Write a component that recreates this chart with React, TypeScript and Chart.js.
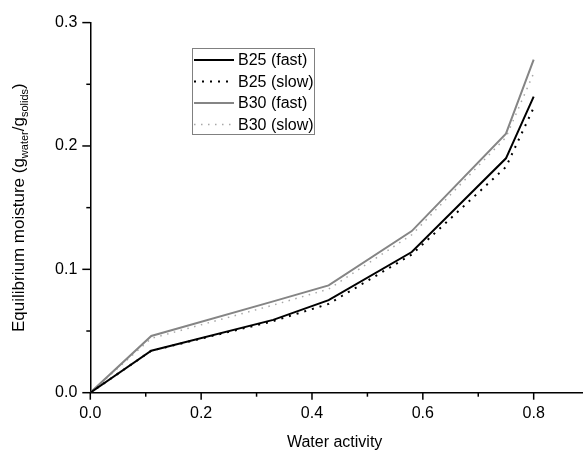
import React, { useEffect, useRef } from "react";
import { Chart, registerables } from "chart.js";

Chart.register(...registerables);

const waterActivity = [0, 0.11, 0.33, 0.43, 0.58, 0.75, 0.8];
const b25Fast = [0, 0.034, 0.059, 0.075, 0.114, 0.19, 0.24];
const b25Slow = [0, 0.034, 0.058, 0.072, 0.112, 0.183, 0.231];
const b30Fast = [0, 0.046, 0.074, 0.087, 0.131, 0.21, 0.27];
const b30Slow = [0, 0.044, 0.071, 0.084, 0.128, 0.207, 0.259];
const seriesLabels = ["B25 (fast)", "B25 (slow)", "B30 (fast)", "B30 (slow)"];

const FONT = "'Liberation Sans', Arial, sans-serif";

const isMult = (v: number, step: number) => Math.abs(v / step - Math.round(v / step)) < 1e-6;

const axisPlugin = {
  id: "customAxis",
  afterDraw(chart: any) {
    const ctx = chart.ctx;
    const xs = chart.scales.x;
    const ys = chart.scales.y;
    const area = chart.chartArea;
    ctx.save();
    ctx.strokeStyle = "#000";
    ctx.lineWidth = 1.5;
    // y ticks
    ys.ticks.forEach((t: any) => {
      const p = ys.getPixelForValue(t.value);
      const len = isMult(t.value, 0.1) ? 8 : 4;
      ctx.beginPath();
      ctx.moveTo(area.left - len, p);
      ctx.lineTo(area.left, p);
      ctx.stroke();
    });
    xs.ticks.forEach((t: any) => {
      const p = xs.getPixelForValue(t.value);
      const len = isMult(t.value, 0.2) ? 7 : 4;
      ctx.beginPath();
      ctx.moveTo(p, area.bottom);
      ctx.lineTo(p, area.bottom + len);
      ctx.stroke();
    });
    // x title
    ctx.fillStyle = "#000";
    ctx.font = `16px ${FONT}`;
    ctx.textAlign = "center";
    ctx.textBaseline = "middle";
    ctx.fillText("Water activity", (area.left + area.right) / 2 - 2, 443);
    // y title with subscripts
    const parts: [string, boolean][] = [
      ["Equilibrium moisture (g", false],
      ["water", true],
      ["/g", false],
      ["solids", true],
      [")", false],
    ];
    const mainFont = `17px ${FONT}`;
    const subFont = `11px ${FONT}`;
    let total = 0;
    parts.forEach(([s, sub]) => {
      ctx.font = sub ? subFont : mainFont;
      total += ctx.measureText(s).width;
    });
    const cy = (area.top + area.bottom) / 2;
    ctx.translate(24, cy);
    ctx.rotate(-Math.PI / 2);
    ctx.textAlign = "left";
    ctx.textBaseline = "alphabetic";
    let x = -total / 2;
    parts.forEach(([s, sub]) => {
      ctx.font = sub ? subFont : mainFont;
      ctx.fillText(s, x, sub ? 4 : 0);
      x += ctx.measureText(s).width;
    });
    ctx.restore();
  },
};

const legendPlugin = {
  id: "boxLegend",
  afterDatasetsDraw(chart: any) {
    const ctx = chart.ctx;
    const left = 192;
    const top = 48;
    const w = 122;
    const h = 86;
    ctx.save();
    ctx.fillStyle = "#fff";
    ctx.fillRect(left, top, w, h);
    ctx.strokeStyle = "#808080";
    ctx.lineWidth = 1;
    ctx.strokeRect(left + 0.5, top + 0.5, w, h);
    const rows = [60, 81.5, 103, 124.5];
    chart.data.datasets.forEach((ds: any, i: number) => {
      const y = rows[i];
      ctx.beginPath();
      ctx.strokeStyle = ds.borderColor;
      ctx.lineWidth = ds.borderWidth;
      ctx.setLineDash(ds.borderDash || []);
      ctx.moveTo(194, y);
      ctx.lineTo(234, y);
      ctx.stroke();
      ctx.setLineDash([]);
      ctx.fillStyle = "#000";
      ctx.font = `16px ${FONT}`;
      ctx.textAlign = "left";
      ctx.textBaseline = "middle";
      ctx.fillText(ds.label, 238, y + 1);
    });
    ctx.restore();
  },
};

export default function App() {
  const ref = useRef<HTMLCanvasElement>(null);
  useEffect(() => {
    if (!ref.current) return;
    const mk = (arr: number[]) => waterActivity.map((x, i) => ({ x, y: arr[i] }));
    const chart = new Chart(ref.current, {
      type: "line",
      data: {
        datasets: [
          { label: seriesLabels[0], data: mk(b25Fast), borderColor: "#000000", borderWidth: 2, pointRadius: 0, fill: false },
          { label: seriesLabels[1], data: mk(b25Slow), borderColor: "#000000", borderWidth: 2, borderDash: [2, 6], pointRadius: 0, fill: false },
          { label: seriesLabels[2], data: mk(b30Fast), borderColor: "#858585", borderWidth: 2, pointRadius: 0, fill: false },
          { label: seriesLabels[3], data: mk(b30Slow), borderColor: "#a8a8a8", borderWidth: 1.5, borderDash: [1.5, 5.5], pointRadius: 0, fill: false },
        ],
      },
      options: {
        animation: false,
        responsive: false,
        layout: { padding: { top: 20.7, right: 0, left: 0, bottom: 0 } },
        plugins: { legend: { display: false }, tooltip: { enabled: false }, title: { display: false } },
        scales: {
          x: {
            type: "linear",
            min: 0,
            max: 0.889,
            afterFit: (s: any) => { s.height = 57.3; },
            grid: { display: false, drawTicks: false },
            border: { display: true, color: "#000", width: 1.5 },
            ticks: {
              stepSize: 0.1,
              includeBounds: false,
              padding: 11,
              color: "#000",
              font: { family: FONT, size: 16 },
              maxRotation: 0,
              autoSkip: false,
              callback: (v: any) => (isMult(Number(v), 0.2) ? Number(v).toFixed(1) : ""),
            },
          },
          y: {
            type: "linear",
            min: 0,
            max: 0.3,
            afterFit: (s: any) => { s.width = 90.3; },
            grid: { display: false, drawTicks: false },
            border: { display: true, color: "#000", width: 1.5 },
            ticks: {
              stepSize: 0.05,
              padding: 13,
              color: "#000",
              font: { family: FONT, size: 16 },
              autoSkip: false,
              callback: (v: any) => (isMult(Number(v), 0.1) ? Number(v).toFixed(1) : ""),
            },
          },
        },
      },
      plugins: [axisPlugin, legendPlugin],
    });
    return () => chart.destroy();
  }, []);
  return (
    <div style={{ position: "fixed", left: 0, top: 0, width: 583, height: 450, background: "#fff" }}>
      <canvas ref={ref} width={583} height={450} />
    </div>
  );
}
